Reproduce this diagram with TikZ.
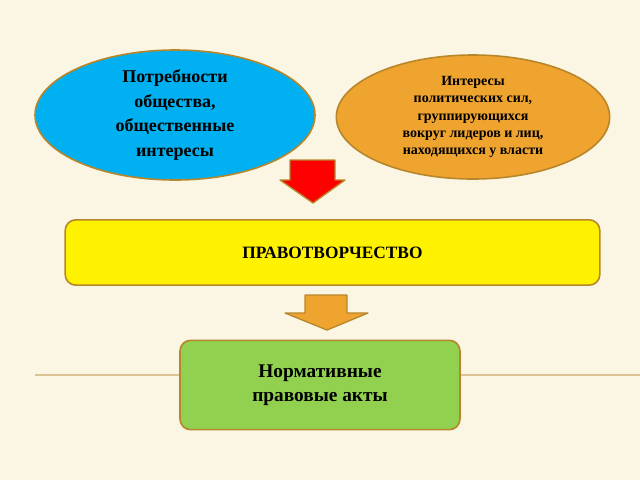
\documentclass[tikz,border=0pt]{standalone}
\usepackage{fontspec}
\setmainfont{Liberation Serif}
\usetikzlibrary{shapes.geometric}
\definecolor{bg}{HTML}{FBF6E4}
\definecolor{edge}{HTML}{B8862A}
\definecolor{blueF}{HTML}{00B0F0}
\definecolor{orangeF}{HTML}{F0A430}
\definecolor{greenF}{HTML}{92D050}
\tikzset{
  oval/.style={ellipse, draw=edge, line width=1.2pt, align=center, inner sep=0pt},
  box/.style={rounded corners=8pt, draw=edge, line width=1.2pt, align=center},
  arr/.style={draw=edge, line width=1pt, line join=round}
}
\begin{document}
\begin{tikzpicture}[x=0.75pt,y=-0.75pt]
\fill[bg] (0,0) rectangle (640,480);
\useasboundingbox (0,0) rectangle (640,480);
\draw[edge!50, line width=0.8pt] (35,375) -- (640,375);
\node[oval, fill=blueF, minimum width=210pt, minimum height=97.5pt, font=\bfseries\fontsize{13.5}{18.5}\selectfont] (need) at (175,115) {Потребности\\общества,\\общественные\\интересы};
\node[oval, fill=orangeF, minimum width=205pt, minimum height=93pt, font=\bfseries\fontsize{10.5}{13}\selectfont] (pol) at (473,117) {Интересы\\политических сил,\\группирующихся\\вокруг лидеров и лиц,\\находящихся у власти};
\draw[arr, fill=red] (290,160) -- (335,160) -- (335,180) -- (345,180) -- (313,203) -- (280,180) -- (290,180) -- cycle;
\node[box, fill=yellow, minimum width=401pt, minimum height=49pt, font=\bfseries\fontsize{13}{15}\selectfont] (law) at (332.5,252.5) {ПРАВОТВОРЧЕСТВО};
\draw[arr, fill=orangeF] (305,295) -- (347,295) -- (347,313) -- (368,313) -- (327,330) -- (285,313) -- (305,313) -- cycle;
\node[box, fill=greenF, minimum width=210pt, minimum height=67pt, font=\bfseries\fontsize{14.5}{18}\selectfont] (acts) at (320,385) {Нормативные\\правовые акты};
\end{tikzpicture}
\end{document}
